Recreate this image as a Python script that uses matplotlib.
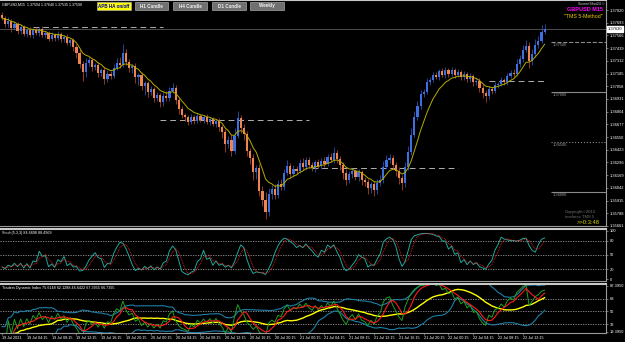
import numpy as np
import pandas as pd
import matplotlib
matplotlib.use("Agg")
import matplotlib.pyplot as plt
from matplotlib.patches import Rectangle

plt.rcParams["font.family"] = ["Liberation Sans", "DejaVu Sans"]

# ---- data (30 min steps, GBPUSD) ----
closes = [
    1.3774, 1.3768, 1.3771, 1.3764, 1.3768, 1.3761, 1.3765, 1.3758, 1.3762, 1.3757,
    1.3762, 1.3759, 1.3763, 1.3757, 1.3759, 1.3753, 1.3757, 1.3754, 1.3758, 1.3753,
    1.3755, 1.3749, 1.3752,
    1.3745, 1.3739, 1.3728, 1.3720, 1.3729, 1.3732, 1.3725, 1.3727, 1.3719, 1.3722,
    1.3713, 1.3718, 1.3716, 1.3724, 1.3729, 1.3727, 1.3739, 1.3730, 1.3724, 1.3726,
    1.3715, 1.3717, 1.3706, 1.3709, 1.3700, 1.3703, 1.3694, 1.3697, 1.3690, 1.3696,
    1.3694, 1.3701, 1.3704,
    1.3692, 1.3683, 1.3677, 1.3675, 1.3670, 1.3675, 1.3671, 1.3676, 1.3672, 1.3675,
    1.3670, 1.3673, 1.3668, 1.3671, 1.3665,
    1.3660, 1.3648, 1.3652, 1.3641, 1.3656, 1.3674, 1.3664, 1.3658, 1.3641, 1.3634,
    1.3620, 1.3624, 1.3601, 1.3592, 1.3580, 1.3598, 1.3603, 1.3597, 1.3608, 1.3605,
    1.3619, 1.3626, 1.3618, 1.3623, 1.3621, 1.3629, 1.3625, 1.3632, 1.3627, 1.3624,
    1.3630, 1.3626, 1.3631, 1.3628, 1.3635, 1.3632, 1.3639, 1.3633, 1.3627, 1.3619,
    1.3612, 1.3618, 1.3621, 1.3615, 1.3620, 1.3612, 1.3610, 1.3604, 1.3608, 1.3602,
    1.3609, 1.3612,
    1.3625, 1.3632, 1.3634, 1.3627, 1.3621, 1.3614, 1.3609, 1.3625, 1.3640, 1.3657,
    1.3675, 1.3686, 1.3698,
    1.3700, 1.3710, 1.3712, 1.3717, 1.3715, 1.3721, 1.3717, 1.3722, 1.3718, 1.3722,
    1.3717, 1.3720, 1.3715, 1.3718, 1.3713, 1.3716, 1.3710, 1.3711, 1.3704, 1.3699,
    1.3696, 1.3703, 1.3701, 1.3707, 1.3708, 1.3712, 1.3710, 1.3716, 1.3719, 1.3718,
    1.3728, 1.3733, 1.3742, 1.3746, 1.3731, 1.3738, 1.3747, 1.3751, 1.3760, 1.3763,
]
first_open = 1.3777
wick_up = [
    3, 2, 4, 2, 3, 2, 3, 2, 2, 3, 2, 3, 2, 3, 2, 2, 3, 2, 3, 2,
    2, 3, 2, 2, 3, 4, 3, 5, 3, 2, 2, 3, 2, 3, 4, 3, 4, 5, 6, 9,
    4, 3, 2, 3, 2, 3, 2, 2, 3, 2, 3, 2, 4, 5, 4, 5, 3, 2, 3, 2,
    2, 3, 2, 3, 2, 2, 3, 2, 2, 2, 3, 2, 3, 4, 5, 8, 7, 3, 4, 3,
    3, 4, 3, 4, 5, 8, 6, 4, 5, 4, 5, 4, 6, 3, 4, 3, 4, 5, 3, 3,
    3, 2, 3, 3, 4, 3, 4, 6, 3, 3, 3, 4, 3, 3, 2, 3, 2, 3, 3, 2,
    3, 4, 5, 6, 5, 4, 3, 3, 4, 3, 5, 6, 7, 6, 5, 4, 3, 4, 3, 3,
    3, 2, 3, 3, 2, 3, 2, 3, 2, 3, 2, 3, 2, 3, 3, 4, 3, 3, 2, 3,
    2, 3, 2, 3, 3, 4, 5, 4, 5, 6, 4, 5, 6, 5, 7, 5,
]
wick_dn = [
    2, 3, 3, 4, 2, 3, 3, 2, 3, 2, 3, 2, 3, 2, 3, 2, 2, 3, 2, 3,
    3, 2, 3, 4, 5, 4, 9, 5, 3, 4, 3, 4, 3, 5, 3, 3, 2, 2, 3, 2,
    3, 4, 5, 6, 8, 4, 9, 5, 3, 4, 3, 5, 4, 3, 3, 2, 4, 5, 3, 4,
    3, 2, 3, 2, 2, 3, 2, 3, 2, 3, 4, 6, 8, 4, 5, 3, 2, 5, 6, 5,
    6, 8, 7, 5, 6, 7, 4, 5, 4, 3, 3, 3, 2, 4, 3, 3, 2, 3, 3, 3,
    3, 4, 2, 3, 3, 2, 2, 3, 4, 5, 6, 5, 3, 4, 3, 4, 5, 4, 6, 5,
    6, 4, 3, 3, 2, 3, 4, 5, 6, 7, 4, 3, 3, 2, 3, 3, 3, 2, 3, 2,
    2, 3, 2, 3, 3, 2, 3, 2, 3, 3, 3, 3, 4, 3, 4, 5, 6, 3, 3, 2,
    3, 2, 3, 3, 2, 3, 2, 3, 3, 2, 7, 4, 3, 3, 2, 2,
]
pip = 0.0001

time_labels = [
    "19 Jul 2021", "19 Jul 04:15", "19 Jul 08:15", "19 Jul 12:15", "19 Jul 16:15",
    "19 Jul 20:15", "20 Jul 00:15", "20 Jul 04:15", "20 Jul 08:15", "20 Jul 12:15",
    "20 Jul 16:15", "20 Jul 20:15", "21 Jul 00:15", "21 Jul 04:15", "21 Jul 08:15",
    "21 Jul 12:15", "21 Jul 16:15", "21 Jul 20:15", "22 Jul 00:15", "22 Jul 04:15",
    "22 Jul 08:15", "22 Jul 12:15",
]
price_ticks = [1.37820, 1.37693, 1.37566, 1.37439, 1.37312, 1.37185, 1.37058, 1.36931,
               1.36804, 1.36677, 1.36550, 1.36423, 1.36296, 1.36169, 1.36042, 1.35915,
               1.35788, 1.35661]
level_prices = [1.3750, 1.3700, 1.3650, 1.3600]
level_styles = ["--", "-", ":", "-"]
# dashed pivot segments: start bar, end bar, price
seg_start = [10, 51, 100, 157]
seg_end = [52, 99, 147, 175]
seg_price = [1.3765, 1.3672, 1.3624, 1.3711]

stoch_ticks = [100, 80, 50, 20, 0]
tdi_ticks = [86.5, 68, 50, 32, 21]
tdi_tick_labels = ["87.3950", "68", "50", "32", "19.3950"]

# ---- derived series (periods scaled to 30 min bars) ----
c = pd.Series(closes)
o = c.shift(1).fillna(first_open)
h = np.maximum(o, c) + np.array(wick_up) * pip
l = np.minimum(o, c) - np.array(wick_dn) * pip
n = len(c)
x = np.arange(n)

ma = c.ewm(span=8, adjust=False).mean()

hh = h.rolling(5, min_periods=1).max()
ll = l.rolling(5, min_periods=1).min()
st_main = 100 * (c - ll).rolling(3, min_periods=1).sum() / (hh - ll).rolling(3, min_periods=1).sum()
st_sig = st_main.rolling(3, min_periods=1).mean()

d = c.diff()
au = d.clip(lower=0).ewm(alpha=1 / 7, adjust=True).mean()
ad = (-d.clip(upper=0)).ewm(alpha=1 / 7, adjust=True).mean()
rsi = (100 - 100 / (1 + au / ad.replace(0, 1e-9))).bfill()
tdi_green = rsi
tdi_red = rsi.rolling(4, min_periods=1).mean()
tdi_yel = rsi.rolling(17, min_periods=1).mean()
tdi_sd = rsi.rolling(17, min_periods=4).std().bfill()
tdi_up = tdi_yel + 1.6185 * tdi_sd
tdi_dn = tdi_yel - 1.6185 * tdi_sd

# ---- figure ----
W, H = 625, 342
fig = plt.figure(figsize=(W / 100, H / 100), dpi=100, facecolor="black")


def box(x0, y0, x1, y1):
    return [x0 / W, 1 - y1 / H, (x1 - x0) / W, (y1 - y0) / H]


ax = fig.add_axes(box(0, 0, 606, 226))
ax_st = fig.add_axes(box(0, 229, 606, 281))
ax_td = fig.add_axes(box(0, 284, 606, 333))
xlim = (-0.65, 194.8)
grey = "#9a9a9a"
for a in (ax, ax_st, ax_td):
    a.set_facecolor("black")
    a.set_xlim(*xlim)
    for s in a.spines.values():
        s.set_color(grey)
        s.set_linewidth(0.8)
    a.spines["top"].set_color("#c8c8c8")
    a.spines["top"].set_linewidth(1.5)
    a.spines["left"].set_visible(False)
    a.yaxis.tick_right()
    a.tick_params(axis="y", colors=grey, labelcolor="white", labelsize=2.9,
                  length=1.5, width=0.5, pad=1)
    a.tick_params(axis="x", bottom=False, labelbottom=False)

# main price panel
ax.set_ylim(1.3566, 1.3792)
ax.set_yticks(price_ticks)
ax.set_yticklabels([f"{v:.5f}" for v in price_ticks])
up = c >= o
for col_body, col_wick, mask in (("#3e6fe0", "#2a4fb0", up), ("#f0844e", "#a8421c", ~up)):
    xs = x[mask.values]
    ax.vlines(xs, l[mask], h[mask], color=col_wick, lw=0.6, zorder=2)
    ax.bar(xs, (c - o)[mask].abs().clip(lower=0.4 * pip), bottom=np.minimum(o, c)[mask],
           width=0.7, color=col_body, linewidth=0, zorder=3)
ax.plot(x, ma, color="#b4ac00", lw=0.7, zorder=4)

for s0, s1, p in zip(seg_start, seg_end, seg_price):
    ax.hlines(p, s0, s1, color="#b0b0b0", lw=0.7, linestyles=(0, (6, 4)), zorder=1)
for p, ls in zip(level_prices, level_styles):
    ax.hlines(p, 177, 194.8, color="#8a8a8a", lw=0.8, linestyles=ls)
    ax.text(177.5, p - 0.5 * pip, f"{p:.5f}", color="#9a9a9a", fontsize=2.9, va="top")
ax.axhline(closes[-1], color="#5a5a5a", lw=0.6, zorder=0)
ax.annotate(f"{closes[-1]:.5f}", xy=(1.0, closes[-1]), xycoords=("axes fraction", "data"),
            xytext=(1.5, 0), textcoords="offset points", fontsize=2.9, color="black",
            va="center", ha="left",
            bbox=dict(boxstyle="square,pad=0.15", fc="white", ec="white"))

ax.text(0.003, 0.987, "GBPUSD,M15  1.37594 1.37640 1.37535 1.37598", transform=ax.transAxes,
        color="white", fontsize=2.6, va="top")

# buttons along the top
btn_x0 = [97, 135, 173, 212, 250]
btn_x1 = [131, 168, 207, 246, 284]
btn_txt = ["APB HA on/off", "H1 Candle", "H4 Candle", "D1 Candle", "Weekly"]
for i, (b0, b1, t) in enumerate(zip(btn_x0, btn_x1, btn_txt)):
    fc, tc = ("#ffff00", "#0000b0") if i == 0 else ("#707070", "#f0f0f0")
    fig.patches.append(Rectangle((b0 / W, 1 - 9.5 / H), (b1 - b0) / W, 7 / H,
                                 transform=fig.transFigure, fc=fc, ec="#c0c0c0", lw=0.4))
    fig.text((b0 + b1) / 2 / W, 1 - 6 / H, t, color=tc, fontsize=3.3, ha="center",
             va="center", fontweight="bold")

fig.text(604 / W, 1 - 4 / H, "ScreenShot24 \u00a9", color="#d0d0d0", fontsize=2.6, ha="right", va="center")
fig.text(603 / W, 1 - 9.5 / H, "GBPUSD M15", color="#ff00ff", fontsize=4.0, ha="right",
         va="center", fontweight="bold")
fig.text(603 / W, 1 - 16.5 / H, "\"TMS 5-Method\"", color="#e6c800", fontsize=3.8, ha="right", va="center")
fig.text(565 / W, 1 - 212 / H, "Copyright\u00a92015", color="#707070", fontsize=3.2, va="center")
fig.text(565 / W, 1 - 217.5 / H, "tmsforex TMS 5", color="#707070", fontsize=3.0, va="center")
fig.text(577 / W, 1 - 223 / H, ">>0:3:48", color="#d4d000", fontsize=4.2, va="center")

# stochastic panel
ax_st.set_ylim(-4, 104)
ax_st.set_yticks(stoch_ticks)
ax_st.set_yticklabels([str(v) for v in stoch_ticks])
for lv in (80, 50, 20):
    ax_st.axhline(lv, color="#9a9a9a", lw=0.6, ls=(0, (1.5, 1.5)))
ax_st.plot(x, st_main, color="#1ea89c", lw=0.7)
ax_st.plot(x, st_sig, color="#ff2020", lw=0.6, ls=(0, (1, 1)))
ax_st.text(0.003, 0.96, "Stoch(5,3,3) 84.6698 88.4969", transform=ax_st.transAxes,
           color="white", fontsize=2.7, va="top")

# TDI panel
ax_td.set_ylim(19.5, 88.8)
ax_td.set_yticks(tdi_ticks)
ax_td.set_yticklabels(tdi_tick_labels)
for lv in (68, 50, 32):
    ax_td.axhline(lv, color="#9a9a9a", lw=0.6, ls=(0, (1.5, 1.5)))
ax_td.plot(x, tdi_up, color="#1f7fa8", lw=0.8)
ax_td.plot(x, tdi_dn, color="#1f7fa8", lw=0.8)
ax_td.plot(x, tdi_yel, color="#ffff00", lw=1.0)
ax_td.plot(x, tdi_green, color="#1ea01e", lw=0.7)
ax_td.plot(x, tdi_red, color="#ff1a1a", lw=0.8)
ax_td.text(0.003, 0.96, "Traders Dynamic Index 75.6148 62.1288 46.6422 67.3955 66.7395",
           transform=ax_td.transAxes, color="white", fontsize=2.7, va="top")

ax_td.set_xticks(np.arange(len(time_labels)) * 8)
ax_td.set_xticklabels(time_labels)
ax_td.tick_params(axis="x", bottom=True, labelbottom=True, colors=grey, labelcolor="white",
                  labelsize=2.7, length=1.5, width=0.5, pad=1)
for lab in ax_td.get_xticklabels():
    lab.set_ha("left")

fig.savefig("out.png", dpi=100, facecolor="black")
